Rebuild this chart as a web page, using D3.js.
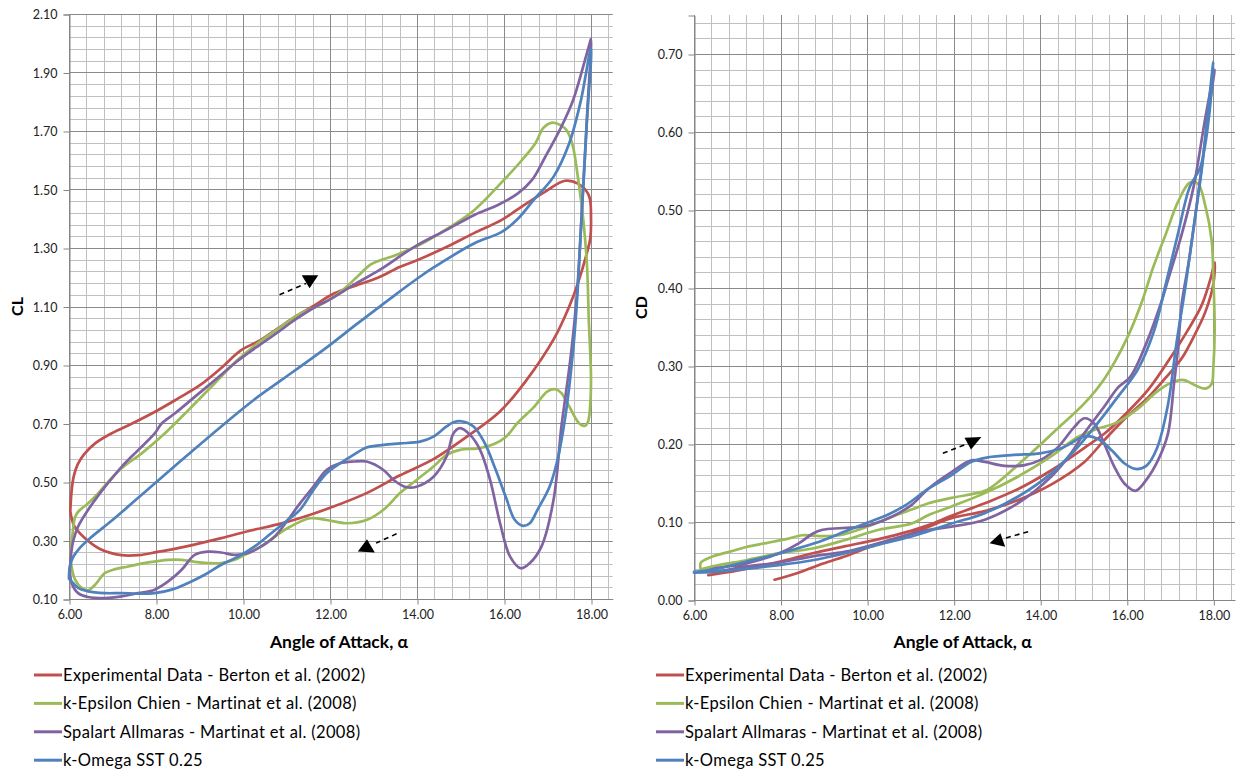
<!DOCTYPE html>
<html><head><meta charset="utf-8">
<script src="https://cdn.jsdelivr.net/npm/d3@7"></script>
<style>body{margin:0;background:#fff} text{font-family:Lato,"Open Sans",sans-serif}</style>
</head><body>
<svg id="c" width="1243" height="773"></svg>
<script>
// ---------- DATA ----------
const seriesNames = [
  "Experimental Data - Berton et al. (2002)",
  "k-Epsilon Chien - Martinat et al. (2008)",
  "Spalart Allmaras - Martinat et al. (2008)",
  "k-Omega SST 0.25"
];
const seriesColors = ["#C0504D", "#9BBB59", "#8064A2", "#4F81BD"];
const xTicks = [6, 8, 10, 12, 14, 16, 18];
const clTicks = [0.10, 0.30, 0.50, 0.70, 0.90, 1.10, 1.30, 1.50, 1.70, 1.90, 2.10];
const cdTicks = [0.00, 0.10, 0.20, 0.30, 0.40, 0.50, 0.60, 0.70];
const xTitle = "Angle of Attack, α";

// CL loops [alpha, CL]
const clExperimental = [[6.03,0.40],[6.06,0.47],[6.11,0.52],[6.2,0.56],[6.35,0.595],[6.6,0.632],[7.0,0.668],[7.45,0.70],[8.0,0.742],[8.5,0.785],[9.0,0.83],[9.5,0.89],[9.95,0.95],[10.4,0.985],[10.8,1.025],[11.2,1.065],[11.6,1.10],[12.1,1.145],[12.6,1.172],[13.1,1.198],[13.6,1.235],[14.0,1.258],[14.7,1.305],[15.3,1.35],[15.95,1.396],[16.4,1.441],[16.95,1.493],[17.4,1.53],[17.7,1.52],[17.95,1.48],[18.0,1.40],[17.98,1.33],[17.9,1.28],[17.7,1.18],[17.5,1.10],[17.15,0.99],[16.5,0.845],[15.9,0.74],[15.1,0.65],[14.4,0.58],[13.6,0.522],[12.84,0.462],[12.08,0.416],[11.3,0.376],[10.8,0.355],[10.2,0.335],[9.5,0.308],[8.7,0.28],[8.0,0.26],[7.6,0.25],[7.2,0.25],[6.7,0.272],[6.35,0.31],[6.12,0.35],[6.03,0.40]];
const clKEpsilon = [[6.04,0.26],[6.08,0.32],[6.14,0.38],[6.22,0.40],[6.44,0.427],[6.67,0.461],[6.9,0.50],[7.21,0.547],[7.67,0.598],[8.2,0.666],[8.74,0.745],[9.3,0.83],[9.86,0.915],[10.3,0.97],[10.77,1.02],[11.3,1.075],[11.7,1.10],[12.0,1.125],[12.32,1.16],[12.65,1.205],[12.95,1.245],[13.5,1.275],[14.05,1.31],[14.77,1.373],[15.32,1.43],[15.95,1.525],[16.41,1.60],[16.73,1.66],[16.9,1.71],[17.09,1.728],[17.3,1.72],[17.45,1.70],[17.58,1.65],[17.7,1.54],[17.82,1.40],[17.91,1.236],[17.95,1.05],[17.98,0.95],[18.0,0.85],[17.98,0.76],[17.93,0.705],[17.86,0.692],[17.73,0.70],[17.5,0.758],[17.32,0.804],[17.18,0.817],[17.0,0.81],[16.68,0.755],[16.3,0.70],[16.05,0.655],[15.77,0.63],[15.4,0.615],[14.99,0.61],[14.68,0.593],[14.38,0.553],[13.99,0.507],[13.61,0.462],[13.23,0.405],[12.84,0.37],[12.38,0.359],[11.92,0.37],[11.54,0.376],[11.0,0.34],[10.42,0.28],[10.04,0.251],[9.81,0.234],[9.5,0.223],[9.2,0.223],[8.89,0.227],[8.59,0.234],[8.28,0.234],[7.82,0.225],[7.36,0.211],[7.06,0.202],[6.83,0.189],[6.6,0.149],[6.44,0.13],[6.29,0.138],[6.14,0.166],[6.06,0.21],[6.04,0.26]];
const clSpalart = [[6.02,0.20],[6.05,0.257],[6.1,0.30],[6.21,0.348],[6.44,0.405],[6.83,0.484],[7.21,0.552],[7.59,0.609],[7.97,0.666],[8.13,0.70],[8.43,0.734],[8.89,0.791],[9.35,0.848],[9.86,0.912],[10.3,0.96],[10.77,1.009],[11.2,1.055],[11.68,1.10],[11.95,1.12],[12.59,1.178],[13.14,1.225],[13.95,1.305],[14.68,1.362],[15.32,1.413],[15.86,1.447],[16.32,1.487],[16.64,1.532],[16.95,1.612],[17.32,1.715],[17.59,1.806],[17.82,1.92],[17.97,2.0],[18.0,2.015],[17.92,1.78],[17.8,1.45],[17.68,1.15],[17.55,0.95],[17.42,0.80],[17.32,0.69],[17.14,0.44],[16.86,0.279],[16.59,0.222],[16.39,0.205],[16.14,0.245],[15.91,0.359],[15.68,0.507],[15.45,0.61],[15.22,0.661],[14.99,0.684],[14.84,0.667],[14.68,0.587],[14.38,0.518],[13.99,0.484],[13.76,0.482],[13.46,0.507],[13.23,0.541],[12.84,0.57],[12.54,0.57],[12.23,0.564],[11.92,0.541],[11.62,0.484],[11.31,0.427],[11.03,0.37],[10.73,0.314],[10.42,0.28],[10.12,0.257],[9.81,0.251],[9.5,0.259],[9.2,0.262],[8.89,0.251],[8.59,0.20],[8.28,0.16],[7.97,0.132],[7.59,0.12],[7.21,0.109],[6.83,0.103],[6.44,0.107],[6.21,0.12],[6.06,0.155],[6.02,0.20]];
const clKOmega = [[6.0,0.17],[6.02,0.211],[6.1,0.245],[6.25,0.275],[6.5,0.31],[7.0,0.37],[7.97,0.495],[8.74,0.594],[9.5,0.69],[10.27,0.783],[10.88,0.848],[11.95,0.963],[12.59,1.037],[13.5,1.14],[14.05,1.20],[14.41,1.236],[15.32,1.316],[15.95,1.355],[16.32,1.40],[16.68,1.464],[17.14,1.544],[17.5,1.658],[17.77,1.806],[18.0,1.983],[17.9,1.72],[17.78,1.40],[17.68,1.123],[17.59,0.952],[17.41,0.724],[17.23,0.576],[17.05,0.485],[16.77,0.405],[16.6,0.36],[16.44,0.35],[16.25,0.37],[16.05,0.445],[15.8,0.545],[15.55,0.635],[15.3,0.69],[15.05,0.707],[14.85,0.705],[14.68,0.69],[14.38,0.655],[14.07,0.638],[13.61,0.632],[13.23,0.627],[12.84,0.618],[12.54,0.593],[12.23,0.564],[11.92,0.53],[11.62,0.473],[11.31,0.405],[11.03,0.37],[10.65,0.325],[10.27,0.28],[9.89,0.245],[9.5,0.217],[9.12,0.183],[8.74,0.155],[8.36,0.132],[7.97,0.12],[7.59,0.118],[7.21,0.12],[6.83,0.12],[6.44,0.126],[6.21,0.138],[6.06,0.16],[6.0,0.17]];

// CD loops [alpha, CD]
const cdExperimental = [[6.33,0.032],[6.83,0.036],[7.21,0.04],[7.97,0.049],[8.74,0.06],[9.5,0.069],[10.27,0.078],[11.03,0.089],[11.42,0.096],[11.95,0.108],[12.72,0.124],[13.48,0.142],[14.25,0.166],[15.02,0.195],[15.5,0.214],[16.0,0.24],[16.5,0.27],[17.0,0.31],[17.4,0.345],[17.73,0.378],[17.95,0.415],[18.03,0.433],[18.0,0.405],[17.82,0.37],[17.55,0.338],[17.27,0.31],[16.9,0.285],[16.5,0.26],[16.0,0.235],[15.48,0.205],[15.02,0.177],[14.25,0.148],[13.48,0.128],[12.72,0.114],[11.95,0.105],[11.42,0.094],[11.03,0.085],[10.42,0.075],[9.96,0.066],[9.5,0.056],[8.89,0.045],[8.36,0.034],[7.86,0.026]];
const cdKEpsilon = [[6.15,0.04],[6.16,0.048],[6.44,0.056],[6.83,0.062],[7.21,0.068],[7.67,0.073],[8.13,0.078],[8.5,0.083],[8.9,0.082],[9.35,0.083],[9.8,0.09],[10.27,0.1],[10.73,0.11],[11.03,0.116],[11.42,0.124],[11.95,0.131],[12.72,0.14],[13.07,0.153],[13.48,0.173],[14.0,0.199],[14.5,0.225],[15.02,0.252],[15.5,0.285],[16.0,0.335],[16.36,0.384],[16.6,0.425],[16.9,0.469],[17.18,0.51],[17.45,0.535],[17.64,0.534],[17.82,0.504],[17.96,0.461],[18.0,0.414],[18.03,0.345],[18.0,0.299],[17.96,0.277],[17.82,0.271],[17.59,0.275],[17.32,0.282],[17.09,0.28],[16.72,0.268],[16.25,0.245],[15.79,0.228],[15.25,0.218],[14.87,0.209],[14.25,0.184],[13.48,0.158],[12.72,0.137],[11.95,0.12],[11.42,0.109],[11.03,0.098],[10.27,0.09],[9.5,0.077],[8.74,0.066],[7.97,0.06],[7.21,0.051],[6.6,0.045],[6.2,0.04]];
const cdSpalart = [[6.3,0.037],[6.44,0.04],[7.21,0.047],[7.97,0.06],[8.43,0.073],[8.74,0.085],[8.97,0.09],[9.35,0.092],[9.73,0.093],[10.12,0.097],[10.58,0.107],[11.03,0.122],[11.42,0.143],[11.95,0.164],[12.41,0.179],[12.72,0.177],[13.18,0.172],[13.64,0.173],[14.02,0.18],[14.41,0.196],[14.79,0.222],[15.02,0.233],[15.25,0.226],[15.48,0.2],[15.71,0.171],[15.95,0.149],[16.2,0.14],[16.45,0.154],[16.72,0.179],[16.95,0.213],[17.09,0.277],[17.18,0.32],[17.27,0.38],[17.45,0.44],[17.73,0.555],[17.9,0.63],[18.03,0.68],[17.82,0.62],[17.54,0.529],[17.27,0.469],[16.95,0.41],[16.81,0.384],[16.45,0.329],[16.08,0.286],[15.79,0.272],[15.48,0.248],[15.02,0.214],[14.71,0.188],[14.25,0.158],[13.48,0.124],[12.72,0.103],[11.95,0.094],[11.42,0.09],[11.03,0.085],[10.27,0.073],[9.5,0.062],[8.74,0.056],[7.97,0.048],[7.21,0.043],[6.6,0.037],[6.3,0.036]];
const cdKOmega = [[6.0,0.036],[6.44,0.039],[7.2,0.049],[8.0,0.06],[8.8,0.073],[9.5,0.088],[10.0,0.099],[10.5,0.11],[10.9,0.122],[11.4,0.142],[11.95,0.16],[12.4,0.177],[12.8,0.183],[13.4,0.186],[14.0,0.188],[14.5,0.195],[15.05,0.21],[15.35,0.206],[15.65,0.192],[15.95,0.175],[16.2,0.168],[16.45,0.172],[16.7,0.195],[16.95,0.25],[17.15,0.33],[17.35,0.40],[17.5,0.46],[17.75,0.56],[17.9,0.64],[18.0,0.69],[17.9,0.62],[17.7,0.555],[17.45,0.529],[17.18,0.469],[16.9,0.405],[16.63,0.345],[16.25,0.295],[15.8,0.261],[15.5,0.239],[15.2,0.218],[14.8,0.192],[14.25,0.162],[13.5,0.133],[12.7,0.111],[11.95,0.098],[11.4,0.088],[11.0,0.081],[10.27,0.071],[9.5,0.06],[8.74,0.051],[8.0,0.045],[7.2,0.04],[6.44,0.036],[6.0,0.035]];

// direction arrows (dashed shaft + triangle head), in data coords
const clArrows = [
  {shaft:[[10.84,1.14],[11.45,1.179]], head:[[11.35,1.207],[11.73,1.207],[11.53,1.162]]},
  {shaft:[[13.53,0.323],[13.06,0.291]], head:[[12.64,0.262],[12.85,0.304],[13.03,0.259]]}
];
const cdArrows = [
  {shaft:[[11.75,0.188],[12.25,0.199]], head:[[12.25,0.208],[12.64,0.209],[12.4,0.193]]},
  {shaft:[[13.72,0.0876],[13.18,0.0791]], head:[[12.83,0.0727],[13.08,0.0855],[13.19,0.0684]]}
];

// ---------- DRAW ----------
const svg = d3.select("#c");
const panels = [
  {left:69, right:612.75, top:14, bottom:599, yDomain:[0.10,2.10], yTicks:clTicks, yLabel:"CL",
   minorY: d3.range(0,51).map(i=>0.10+i*0.04), series:[clExperimental,clKEpsilon,clSpalart,clKOmega],
   arrows:clArrows, legendX:34, yLabelX:18},
  {left:694, right:1235, top:15, bottom:600, yDomain:[0,0.75], yTicks:cdTicks, yLabel:"CD",
   minorY: d3.range(0,38).map(i=>i*0.02), series:[cdExperimental,cdKEpsilon,cdSpalart,cdKOmega],
   arrows:cdArrows, legendX:656, yLabelX:642}
];
const minorX = d3.range(0,32).map(i=>6+i*0.4);

panels.forEach(p => {
  const x = d3.scaleLinear().domain([6,18.5]).range([p.left,p.right]);
  const y = d3.scaleLinear().domain(p.yDomain).range([p.bottom,p.top]);
  const g = svg.append("g");
  minorX.forEach((v,i) => {
    const major = i%5===0;
    g.append("line").attr("x1",Math.round(x(v))+0.5).attr("x2",Math.round(x(v))+0.5)
      .attr("y1",p.top).attr("y2",p.bottom)
      .attr("stroke",major?"#8a8a8a":"#c0c0c0").attr("stroke-width",1).attr("data-major",major?1:0);
  });
  p.minorY.forEach((v,i) => {
    const major = i%5===0;
    g.append("line").attr("x1",p.left).attr("x2",p.right)
      .attr("y1",Math.round(y(v))+0.5).attr("y2",Math.round(y(v))+0.5)
      .attr("stroke",major?"#8a8a8a":"#c0c0c0").attr("stroke-width",1).attr("data-major",major?1:0);
  });
  g.selectAll("line[data-major='1']").raise();

  const ya = svg.append("g").attr("transform",`translate(${Math.round(p.left)+0.5},0.5)`)
    .call(d3.axisLeft(y).tickValues(p.yTicks).tickFormat(d3.format(".2f")).tickSize(6).tickPadding(6));
  const xa = svg.append("g").attr("transform",`translate(0.5,${Math.round(p.bottom)+0.5})`)
    .call(d3.axisBottom(x).tickValues(xTicks).tickFormat(d3.format(".2f")).tickSize(5).tickPadding(6));
  [ya,xa].forEach(a => {
    a.selectAll("path.domain").attr("stroke","#868686");
    a.selectAll(".tick line").attr("stroke","#868686");
    a.selectAll("text").attr("font-family","Lato, sans-serif").attr("font-size",12.5).attr("fill","#222");
  });
  xa.select("path.domain").attr("d",`M${x(6)},0H${p.right}`);

  const line = d3.line().x(d=>x(d[0])).y(d=>y(d[1])).curve(d3.curveCatmullRom.alpha(0.5));
  p.series.forEach((s,i) => {
    svg.append("path").attr("d",line(s)).attr("fill","none")
      .attr("stroke",seriesColors[i]).attr("stroke-width",2.7)
      .attr("stroke-linejoin","round").attr("stroke-linecap","round");
  });

  p.arrows.forEach(a => {
    svg.append("path").attr("d",d3.line().x(d=>x(d[0])).y(d=>y(d[1]))(a.shaft))
      .attr("stroke","#000").attr("stroke-width",1.6).attr("stroke-dasharray","5,4").attr("fill","none");
    svg.append("path").attr("d",d3.line().x(d=>x(d[0])).y(d=>y(d[1]))(a.head)+"Z").attr("fill","#000");
  });

  svg.append("text").attr("x",(x(6)+x(18))/2+9).attr("y",648).attr("text-anchor","middle")
    .attr("font-weight","bold").attr("font-size",17.5).attr("fill","#000").text(xTitle);
  svg.append("text").attr("transform",`translate(${p.yLabelX+5},${(p.top+p.bottom)/2}) rotate(-90)`)
    .attr("text-anchor","middle").attr("font-weight","bold").attr("font-size",16).attr("fill","#000").text(p.yLabel);

  seriesNames.forEach((n,i) => {
    const ly = 675 + i*28.4;
    svg.append("line").attr("x1",p.legendX).attr("x2",p.legendX+28).attr("y1",ly).attr("y2",ly)
      .attr("stroke",seriesColors[i]).attr("stroke-width",3);
    svg.append("text").attr("x",p.legendX+29).attr("y",ly+6).attr("font-size",16.5)
      .attr("letter-spacing",0.35).attr("fill","#000").text(n);
  });
});
</script>
</body></html>
